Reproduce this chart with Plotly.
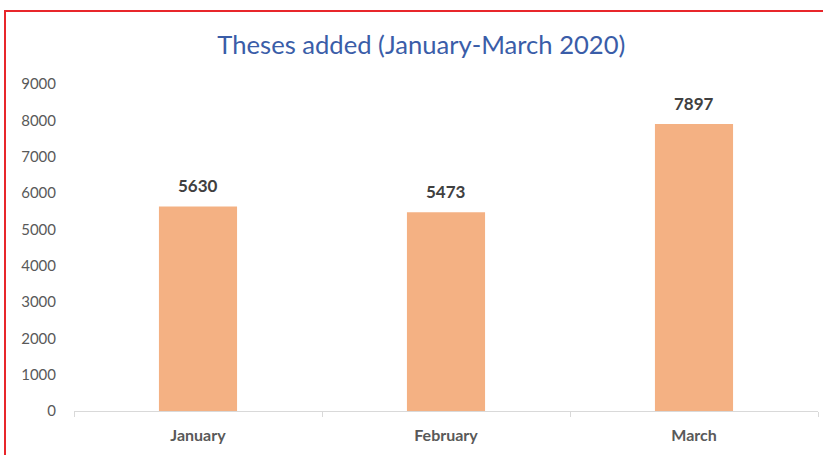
import plotly.graph_objects as go

months = ["January", "February", "March"]
theses = [5630, 5473, 7897]
y_ticks = [0, 1000, 2000, 3000, 4000, 5000, 6000, 7000, 8000, 9000]

fig = go.Figure(go.Bar(
    x=months, y=theses, width=0.315,
    marker=dict(color="#F4B183", line=dict(width=0)),
    hoverinfo="x+y",
))

for m, v in zip(months, theses):
    fig.add_annotation(x=m, y=v, text=f"<b>{v}</b>", showarrow=False,
                       yshift=21, yanchor="middle",
                       font=dict(family="Lato", size=17, color="#404040"))

fig.update_layout(
    width=823, height=455,
    margin=dict(l=74, r=5, t=84, b=44),
    paper_bgcolor="white", plot_bgcolor="white",
    showlegend=False,
    title=dict(text="Theses added (January-March 2020)", x=0.512, xref="container",
               y=1 - 45 / 455, yref="container", yanchor="middle", xanchor="center",
               font=dict(family="Lato", size=25.6, color="#3A5DA8")),
    xaxis=dict(showgrid=False, showline=True, linecolor="#D9D9D9", linewidth=1,
               ticks="outside", tickson="boundaries", ticklen=5, tickcolor="#D9D9D9",
               tickfont=dict(family="Lato", size=16, color="#595959", weight="bold"),
               ticklabelstandoff=10),
    yaxis=dict(range=[0, 9000], tickvals=y_ticks, showgrid=False, zeroline=False,
               showline=False, ticks="", ticklabelstandoff=17,
               tickfont=dict(family="Lato", size=15, color="#595959")),
    shapes=[dict(type="rect", xref="paper", yref="paper",
                 x0=(5 - 74) / 744, x1=1.05, y0=-0.3, y1=1 + (84 - 11) / 327,
                 line=dict(color="#E8262B", width=2), fillcolor="rgba(0,0,0,0)", layer="above")],
)

fig.write_html("out.html", config={"displayModeBar": False},
               post_script="document.body.style.margin='0';document.body.style.padding='0';")
